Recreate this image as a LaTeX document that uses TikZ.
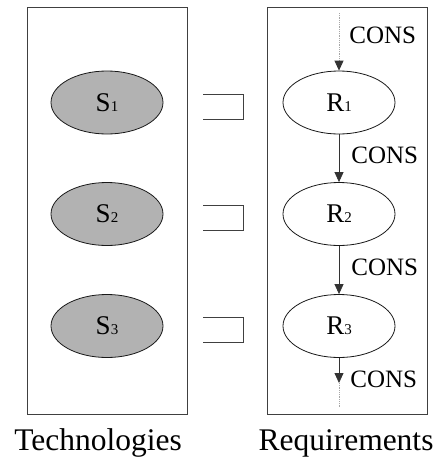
\documentclass[tikz,border=0pt]{standalone}
\usepackage{fontspec}
\setmainfont{Liberation Serif}
\usetikzlibrary{positioning, arrows.meta, shapes.geometric}

% small index digit set on the baseline
\newcommand{\idx}[1]{{\fontsize{15}{15}\selectfont #1}}

\begin{document}
\begin{tikzpicture}[x=1pt, y=-1pt, line width=0.8pt,
    panel/.style={rectangle, draw=black!75, minimum width=160pt, minimum height=407pt, inner sep=0pt},
    techn/.style={ellipse, draw=black!90, fill=gray!60, minimum width=112pt, minimum height=63pt,
                  inner sep=0pt, font=\fontsize{27}{27}\selectfont},
    reqn/.style={ellipse, draw=black!90, fill=white, minimum width=112pt, minimum height=63pt,
                 inner sep=0pt, font=\fontsize{27}{27}\selectfont},
    cons/.style={draw=black!80, -{Triangle[length=10pt, width=9pt]}},
    consfree/.style={draw=gray!70, densely dotted},
    conslabel/.style={font=\fontsize{25}{25}\selectfont, inner sep=0pt},
    symline/.style={draw=black!75},
    caption/.style={font=\fontsize{31.5}{32}\selectfont, inner sep=0pt}]

  \useasboundingbox (0,0) rectangle (442,463);

  % the two panels
  \node [panel] (techbox) at (107,210.5) {};
  \node [panel] (reqbox) at (347,210.5) {};

  % nodes
  \foreach \i/\y in {1/102.5, 2/214, 3/326} {
    \node [techn] (s\i) at (107,\y) {S\idx{\i}};
    \node [reqn] (r\i) at (339,\y) {R\idx{\i}};
    % inclusion sign between the panels
    \draw [symline] ([xshift=96pt, yshift=8.5pt]s\i.center) -- ([xshift=136pt, yshift=8.5pt]s\i.center)
      -- ([xshift=136pt, yshift=-16.5pt]s\i.center) -- ([xshift=96pt, yshift=-16.5pt]s\i.center);
  }

  % free ends of the chain
  \coordinate (in) at (339,13);
  \coordinate (out) at (339,383);
  \coordinate (end) at (339,407);

  % edges
  \draw [consfree] (in) -- node [conslabel, right=10pt, yshift=1pt] (c0) {CONS} ([yshift=10pt]r1.north);
  \draw [cons] ([yshift=10pt]r1.north) -- (r1.north);

  \draw [cons] (r1) -- node [conslabel, right=12pt, yshift=3pt] (c1) {CONS} (r2);
  \draw [cons] (r2) -- node [conslabel, right=12pt, yshift=3pt] (c2) {CONS} (r3);

  \draw [cons] (r3) -- node [conslabel, pos=0.85, right=11pt] (c3) {CONS} (out);
  \draw [consfree] (out) -- (end);

  % captions
  \node [caption, anchor=base] (techlabel) at (98,450) {Technologies};
  \node [caption, anchor=base] (reqlabel) at (346,450) {Requirements};
\end{tikzpicture}
\end{document}
